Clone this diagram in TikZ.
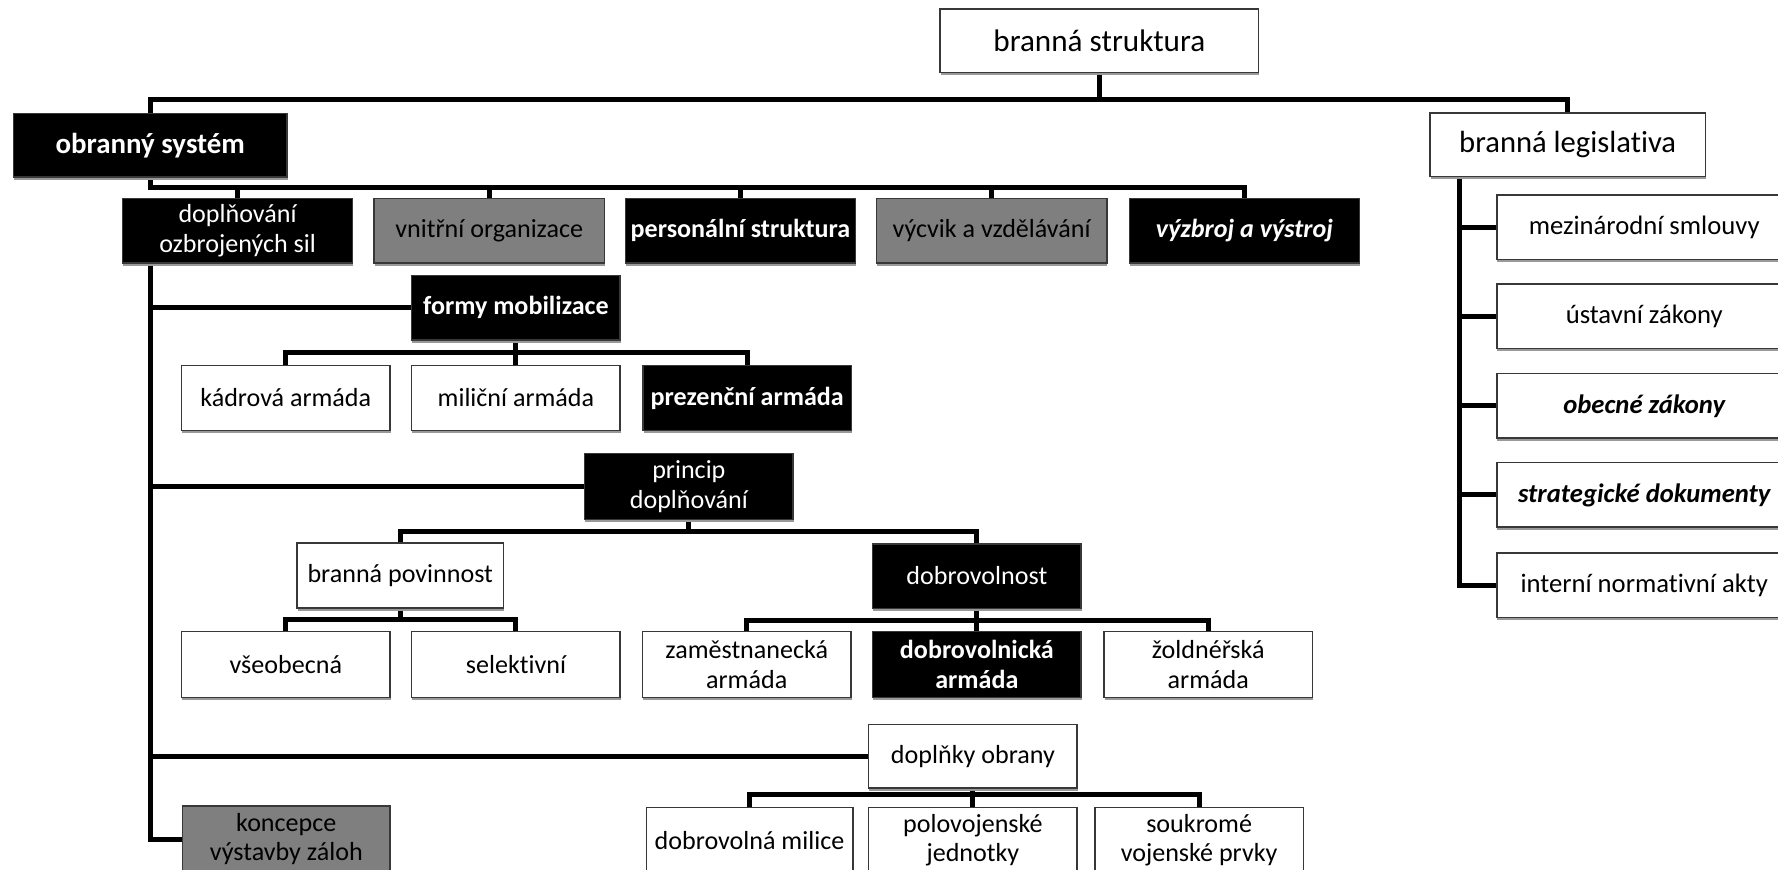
\documentclass[tikz,border=0pt]{standalone}
\usepackage{fontspec}
\setmainfont{Carlito}[Ligatures=NoCommon]
\usetikzlibrary{backgrounds,shadows}
\definecolor{boxgray}{HTML}{7F7F7F}
\begin{document}
\begin{tikzpicture}[x=1pt,y=-1pt,
  every node/.style={inner sep=0pt, align=center},
  box/.style={draw=black!78, line width=1.4pt, drop shadow={shadow xshift=0.6pt, shadow yshift=-2.4pt, fill=black!40, opacity=1}},
  wbox/.style={box, fill=white, text=black},
  bbox/.style={box, fill=black, text=white},
  gbox/.style={box, fill=boxgray, text=black},
  mid/.style={font=\fontsize{23}{26}\selectfont},
  midb/.style={font=\fontsize{23}{26}\selectfont\bfseries},
  lvl/.style={minimum width=203, minimum height=57},
  sm/.style={minimum width=184, minimum height=57},
  leg/.style={minimum width=260, minimum height=57},
  legf/.style={font=\fontsize{23.5}{26}\selectfont},
  conn/.style={line width=4.4pt, line join=miter, draw=black}
]
\useasboundingbox (0,0) rectangle (1568,767);
\clip (0,0) rectangle (1568,767);

% top level
\node[wbox, minimum width=281, minimum height=56, font=\fontsize{27.5}{30}\selectfont] (bs) at (969.5,36) {branná struktura};
\node[bbox, minimum width=241, minimum height=56, font=\fontsize{25.5}{28}\selectfont\bfseries] (os) at (132.5,128) {obranný systém};
\node[wbox, minimum width=243, minimum height=56, font=\fontsize{27}{30}\selectfont] (bl) at (1382.5,127.5) {branná legislativa};

% level 2
\node[bbox, lvl, mid] (dop) at (209.5,203.5) {doplňování\\ozbrojených sil};
\node[gbox, lvl, mid] (vni) at (431.5,203.5) {vnitřní organizace};
\node[bbox, lvl, midb] (per) at (653,203.5) {personální struktura};
\node[gbox, lvl, mid] (vyc) at (874.5,203.5) {výcvik a vzdělávání};
\node[bbox, lvl, font=\fontsize{23}{26}\selectfont\bfseries\itshape] (vyz) at (1097.5,203.5) {výzbroj a výstroj};

% formy mobilizace
\node[bbox, sm, midb] (fm) at (455,271.5) {formy mobilizace};
\node[wbox, sm, mid] (kad) at (252,351) {kádrová armáda};
\node[wbox, sm, mid] (mil) at (455,351) {miliční armáda};
\node[bbox, sm, midb] (pre) at (659,351) {prezenční armáda};

% princip doplnovani
\node[bbox, sm, mid, minimum height=58] (pd) at (607.5,429) {princip\\doplňování};
\node[wbox, sm, mid, minimum width=182] (bp) at (353,507.5) {branná povinnost};
\node[bbox, sm, mid] (dob) at (861.5,508) {dobrovolnost};
\node[wbox, sm, mid, minimum height=58] (vse) at (252,586) {všeobecná};
\node[wbox, sm, mid, minimum height=58] (sel) at (455,586) {selektivní};
\node[wbox, sm, mid, minimum height=58] (zam) at (658.5,586) {zaměstnanecká\\armáda};
\node[bbox, sm, midb, minimum height=58] (dba) at (861.5,586) {dobrovolnická\\armáda};
\node[wbox, sm, mid, minimum height=58] (zol) at (1065.5,586) {žoldnéřská\\armáda};

% doplnky obrany
\node[wbox, sm, mid, minimum height=56] (do) at (858,667) {doplňky obrany};
\node[wbox, sm, mid, minimum height=58, minimum width=182] (dm) at (661,741) {dobrovolná milice};
\node[wbox, sm, mid, minimum height=58] (pj) at (858,741) {polovojenské\\jednotky};
\node[wbox, sm, mid, minimum height=58] (sv) at (1057.5,741) {soukromé\\vojenské prvky};

% koncepce
\node[gbox, sm, mid, minimum height=58, minimum width=183] (kon) at (252.5,740) {koncepce\\výstavby záloh};

% legislativa
\node[wbox, leg, legf] (mez) at (1450,200.5) {mezinárodní smlouvy};
\node[wbox, leg, legf] (ust) at (1450,279) {ústavní zákony};
\node[wbox, leg, legf, font=\fontsize{23.5}{26}\selectfont\bfseries\itshape] (obe) at (1450,358) {obecné zákony};
\node[wbox, leg, legf, font=\fontsize{23.5}{26}\selectfont\bfseries\itshape] (str) at (1450,436.5) {strategické dokumenty};
\node[wbox, leg, legf] (int) at (1450,516) {interní normativní akty};

\begin{pgfonlayer}{background}
\coordinate (tb) at (0,88);
\coordinate (l2) at (0,165);
\coordinate (fmb) at (0,311);
\coordinate (pdb) at (0,469);
\coordinate (bpb) at (0,546);
\coordinate (dob2) at (0,547);
\coordinate (dob3) at (0,701);
\coordinate (rt) at (1287,0);

\draw[conn] (bs.south) -- (bs.south |- tb) -| (os.north);
\draw[conn] (bs.south |- tb) -| (bl.north);

\draw[conn] (os.south) -- (os.south |- l2) -| (vyz.north);
\foreach \n in {dop,vni,per,vyc} \draw[conn] (os.south |- l2) -| (\n.north);

% trunk
\draw[conn] (dop.south -| os.south) |- (kon.west);
\foreach \n in {fm,pd,do} \draw[conn] (dop.south -| os.south) |- (\n.west);

\draw[conn] (fm.south) -- (fm.south |- fmb) -| (kad.north);
\draw[conn] (fm.south |- fmb) -| (pre.north);
\draw[conn] (fm.south) -- (mil.north);

\draw[conn] (pd.south) -- (pd.south |- pdb) -| (bp.north);
\draw[conn] (pd.south |- pdb) -| (dob.north);

\draw[conn] (bp.south) -- (bp.south |- bpb) -| (vse.north);
\draw[conn] (bp.south |- bpb) -| (sel.north);

\draw[conn] (dob.south) -- (dob.south |- dob2) -| (zam.north);
\draw[conn] (dob.south |- dob2) -| (zol.north);
\draw[conn] (dob.south) -- (dba.north);

\draw[conn] (do.south) -- (do.south |- dob3) -| (dm.north);
\draw[conn] (do.south |- dob3) -| (sv.north);
\draw[conn] (do.south) -- (pj.north);

\draw[conn] (bl.south -| rt) |- (int.west);
\foreach \n in {mez,ust,obe,str} \draw[conn] (rt |- \n.west) -- (\n.west);
\end{pgfonlayer}
\end{tikzpicture}
\end{document}
